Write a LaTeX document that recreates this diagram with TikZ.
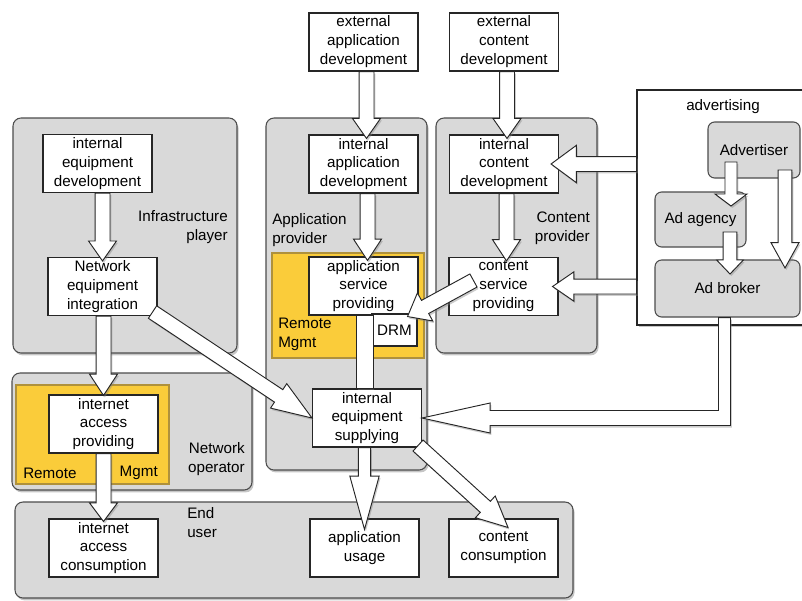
\documentclass[tikz,border=0pt]{standalone}
\usepackage{fontspec}
\setmainfont{Liberation Sans}
\usepackage{xcolor}
\usepackage{tikz}
\usetikzlibrary{calc,shadows}

\definecolor{grpgray}{RGB}{217,217,217}
\definecolor{mgmtyellow}{RGB}{250,204,58}
\definecolor{mgmtedge}{RGB}{175,145,60}
\newcommand{\diafont}{\fontsize{11.4}{14.2}\selectfont}

\tikzset{
    grp/.style={draw=black!70, fill=grpgray, rounded corners=6pt, line width=0.8pt,
        drop shadow={shadow xshift=1.2pt, shadow yshift=-1.8pt, opacity=0.45}},
    mgmt/.style={draw=mgmtedge, fill=mgmtyellow, line width=0.8pt},
    box/.style={draw=black!85, fill=white, line width=0.8pt, minimum width=81.75pt,
        minimum height=43.5pt, align=center, inner sep=1pt, font=\diafont},
    adbox/.style={draw=black!70, fill=grpgray, rounded corners=5pt, line width=0.8pt,
        align=center, inner sep=1pt, font=\diafont},
    lbl/.style={inner sep=0pt, font=\diafont},
    fatarrow/.style={draw=black!85, fill=white, line width=0.7pt, line join=miter,
        drop shadow={shadow xshift=1pt, shadow yshift=-1.5pt, opacity=0.4}}
}

% #2 from, #3 tip, #4 head length, #5 head half width, #6 shaft half width
\newcommand{\fatarrow}[6][]{%
    \coordinate (fah) at ($(#3)!#4!(#2)$);
    \draw[fatarrow,#1] ($(#2)!#6!90:(#3)$) -- ($(fah)!#6!90:(#3)$) -- ($(fah)!#5!90:(#3)$)
        -- (#3) -- ($(fah)!#5!-90:(#3)$) -- ($(fah)!#6!-90:(#3)$) -- ($(#2)!#6!-90:(#3)$) -- cycle;}

\begin{document}
\begin{tikzpicture}[x=0.75pt, y=-0.75pt]
    \useasboundingbox (0,0) rectangle (802,600);

    % Groups
    \draw[grp] (13,118) rectangle (237,353);
    \draw[grp] (266,118) rectangle (427,470);
    \draw[grp] (436,118) rectangle (597,353);
    \draw[grp] (12,373) rectangle (252,490);
    \draw[grp] (15,502) rectangle (573,598);
    \draw[mgmt] (272,253) rectangle (424,358);
    \draw[mgmt] (16,385) rectangle (169,484);

    % Group labels
    \node[lbl, anchor=east, align=right] (lblinfra) at (228,227.5) {Infrastructure\\player};
    \node[lbl, anchor=west, align=left] (lblapp) at (272,230) {Application\\provider};
    \node[lbl, anchor=east, align=right] (lblcont) at (590,228) {Content\\provider};
    \node[lbl, anchor=west, align=left] (lblmgmt) at (278,334) {Remote\\Mgmt};
    \node[lbl, anchor=east, align=right] (lblnet) at (245,459.5) {Network\\operator};
    \node[lbl, anchor=west] (lblremote) at (23,473) {Remote};
    \node[lbl, anchor=east] (lblmgmt2) at (158,473) {Mgmt};
    \node[lbl, anchor=west, align=left] (lbluser) at (187,523) {End\\user};

    % Advertising
    \node[draw=black!85, fill=white, line width=0.8pt, minimum width=133.5pt, minimum height=176.25pt,
        drop shadow={shadow xshift=1.2pt, shadow yshift=-1.8pt, opacity=0.45}] (adv) at (726,207.5) {};
    \node[lbl] (lbladv) at (723,107) {advertising};
    \node[adbox, minimum width=69pt, minimum height=42pt] (advertiser) at (754,150) {Advertiser};
    \node[adbox, minimum width=68.25pt, minimum height=41.25pt] (adagency) at (700.5,219.5) {Ad agency};
    \node[adbox, minimum width=108.75pt, minimum height=42.75pt] (adbroker) at (727.5,288.5) {Ad broker};

    % Activities
    \node[box] (extapp) at (363.5,42) {external\\application\\development};
    \node[box] (extcont) at (504,42) {external\\content\\development};
    \node[box] (intapp) at (363.5,164) {internal\\application\\development};
    \node[box] (intcont) at (504,164) {internal\\content\\development};
    \node[box] (intequip) at (97.5,163.5) {internal\\equipment\\development};
    \node[box] (netint) at (102.5,286.5) {Network\\equipment\\integration};
    \node[box] (appserv) at (363.5,286) {application\\service\\providing};
    \node[box] (contserv) at (503.5,286.5) {content\\service\\providing};
    \node[box, minimum width=33.75pt, minimum height=24pt] (drm) at (394.5,330) {DRM};
    \node[box] (eqsupply) at (367,418) {internal\\equipment\\supplying};
    \node[box] (iaprov) at (103.5,424) {internet\\access\\providing};
    \node[box] (iacons) at (103.5,548) {internet\\access\\consumption};
    \node[box] (appuse) at (364.5,548) {application\\usage};
    \node[box] (contcons) at (503.5,548) {content\\consumption};

    % Flows
    \coordinate (t1) at ($(intapp.north)+(3,4)$);
    \fatarrow{extapp.south -| t1}{t1}{15pt}{10.5pt}{5.6pt}
    \coordinate (t2) at ($(intcont.north)+(3,4)$);
    \fatarrow{extcont.south -| t2}{t2}{15pt}{10.5pt}{5.6pt}
    \coordinate (t3) at ($(appserv.north)+(4,4)$);
    \fatarrow{intapp.south -| t3}{t3}{16pt}{10.5pt}{5.6pt}
    \coordinate (t4) at ($(contserv.north)+(3,4)$);
    \fatarrow{intcont.south -| t4}{t4}{16pt}{10.5pt}{5.6pt}
    \coordinate (t5) at ($(netint.north)+(0,4)$);
    \fatarrow{intequip.south -| t5}{t5}{15pt}{10.5pt}{5.6pt}
    \coordinate (t6) at ($(iaprov.north)+(0,1)$);
    \fatarrow{netint.south -| t6}{t6}{16pt}{10.5pt}{5.6pt}
    \coordinate (t7) at ($(iacons.north)+(0,3)$);
    \fatarrow{iaprov.south -| t7}{t7}{14pt}{10.5pt}{5.6pt}
    \coordinate (s8) at ($(netint.south east)+(-5,-4)$);
    \fatarrow{s8}{eqsupply.west}{30pt}{11pt}{5.6pt}
    \draw[fatarrow] ($(appserv.south)+(-7,0)$) rectangle ($(eqsupply.north)+(6,0)$);
    \coordinate (t10) at ($(appuse.north)+(0,11)$);
    \fatarrow{eqsupply.south -| t10}{t10}{40pt}{11pt}{4.6pt}
    \coordinate (s11) at ($(eqsupply.south east)+(-4,-2)$);
    \coordinate (t11) at ($(contcons.north)+(4.5,9)$);
    \fatarrow{s11}{t11}{23pt}{11pt}{5.6pt}
    \coordinate (s12) at ($(contserv.west)+(25,-6)$);
    \coordinate (t12) at ($(appserv.south east)+(-11,1)$);
    \fatarrow{s12}{t12}{15pt}{12pt}{5.6pt}
    \coordinate (t13) at ($(intcont.east)+(-8,0)$);
    \fatarrow{adv.west |- t13}{t13}{19pt}{14pt}{5.6pt}
    \coordinate (t14) at ($(contserv.east)+(-6,0)$);
    \fatarrow{adv.west |- t14}{t14}{16pt}{11pt}{5.6pt}
    % Ad broker to equipment supplying
    \draw[fatarrow] ($(adbroker.south)+(3,0)$) |- ($(eqsupply.east)+(68,7.5)$) -- ++(0,7.5)
        -- (eqsupply.east) -- ++(68,-15) -- ++(0,7.5) -| ($(adbroker.south)+(-9,0)$) -- cycle;
    % Inside advertising
    \coordinate (s16) at (731,162);
    \coordinate (t16) at (731,206);
    \fatarrow{s16}{t16}{9pt}{12pt}{4.5pt}
    \coordinate (s17) at (730,232);
    \coordinate (t17) at (730,274);
    \fatarrow{s17}{t17}{10.5pt}{10pt}{5.2pt}
    \coordinate (s18) at (785,170);
    \coordinate (t18) at (785,268);
    \fatarrow{s18}{t18}{19pt}{10.5pt}{5.2pt}
\end{tikzpicture}
\end{document}
